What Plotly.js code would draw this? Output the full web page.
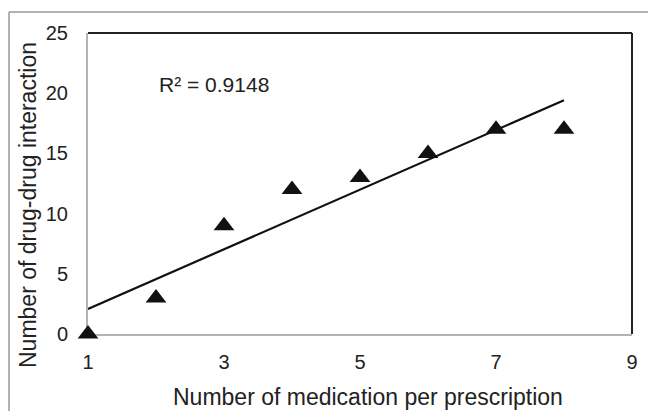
<!DOCTYPE html>
<html>
<head>
<meta charset="utf-8">
<script src="https://cdn.plot.ly/plotly-3.0.1.min.js"></script>
<style>html,body{margin:0;padding:0;background:#fff;}#chart{width:648px;height:411px;}</style>
</head>
<body>
<div id="chart"></div>
<script>
// Data
const medsPerPrescription = [1, 2, 3, 4, 5, 6, 7, 8];
const drugInteractions = [0, 3, 9, 12, 13, 15, 17, 17];
const xTickValues = [1, 3, 5, 7, 9];
const yTickValues = [0, 5, 10, 15, 20, 25];
const xTitle = 'Number of medication per prescription';
const yTitle = 'Number of drug-drug interaction';

// Linear least-squares trendline computed from the data
const n = medsPerPrescription.length;
const mx = medsPerPrescription.reduce((a, b) => a + b, 0) / n;
const my = drugInteractions.reduce((a, b) => a + b, 0) / n;
let sxy = 0, sxx = 0, syy = 0;
for (let i = 0; i < n; i++) {
  const dx = medsPerPrescription[i] - mx, dy = drugInteractions[i] - my;
  sxy += dx * dy; sxx += dx * dx; syy += dy * dy;
}
const slope = sxy / sxx;
const intercept = my - slope * mx;
const r2 = (sxy * sxy) / (sxx * syy);
const xFit = [medsPerPrescription[0], medsPerPrescription[n - 1]];
const yFit = xFit.map(x => intercept + slope * x);

const FONT = 'Liberation Sans, Arial, sans-serif';

const traces = [
  {
    x: xFit, y: yFit, type: 'scatter', mode: 'lines',
    line: {color: '#111', width: 2.2}, hoverinfo: 'skip', showlegend: false
  },
  {
    x: medsPerPrescription, y: drugInteractions, type: 'scatter', mode: 'markers',
    marker: {symbol: 'triangle-up', size: 18, color: '#111', line: {width: 0}},
    cliponaxis: false, showlegend: false
  }
];

const layout = {
  width: 648, height: 411,
  margin: {l: 88, r: 16, t: 33, b: 77},
  paper_bgcolor: '#fff', plot_bgcolor: '#fff',
  font: {family: FONT, color: '#222', size: 20},
  showlegend: false,
  xaxis: {
    range: [1, 9], tickvals: xTickValues, ticktext: xTickValues.map(String),
    showgrid: false, zeroline: false, showline: true, linecolor: '#b3b3b3', linewidth: 2,
    layer: 'below traces',
    ticks: '', ticklabelstandoff: 9, tickfont: {size: 20, family: FONT, color: '#222'}
  },
  yaxis: {
    range: [0, 25], tickvals: yTickValues, ticktext: yTickValues.map(String),
    showgrid: false, zeroline: false, showline: true, linecolor: '#b3b3b3', linewidth: 2,
    layer: 'below traces',
    ticks: '', ticklabelstandoff: 14, tickfont: {size: 20, family: FONT, color: '#222'}
  },
  shapes: [
    // plot-area top and right borders (dark)
    {type: 'line', xref: 'paper', yref: 'paper', x0: 0, x1: 1, y0: 1, y1: 1, line: {color: '#222', width: 2}},
    {type: 'line', xref: 'paper', yref: 'paper', x0: 1, x1: 1, y0: 0, y1: 1, line: {color: '#222', width: 2}},
    // outer chart frame (grey)
    {type: 'line', xref: 'paper', yref: 'paper', x0: -0.1452, x1: 1.2, y0: 1.0698, y1: 1.0698, line: {color: '#999', width: 1.5}},
    {type: 'line', xref: 'paper', yref: 'paper', x0: -0.1452, x1: -0.1452, y0: -0.4, y1: 1.0698, line: {color: '#999', width: 1.5}}
  ],
  annotations: [
    {xref: 'paper', yref: 'paper', x: (157 - 88) / 544, y: (334 - 84) / 301,
     xanchor: 'left', yanchor: 'middle', showarrow: false,
     text: 'R² = ' + r2.toFixed(4), font: {size: 21, family: FONT, color: '#222'}},
    // axis titles
    {xref: 'paper', yref: 'paper', x: (368 - 88) / 544, y: (334 - 397) / 301,
     xanchor: 'center', yanchor: 'middle', showarrow: false,
     text: xTitle, font: {size: 23, family: FONT, color: '#222'}},
    {xref: 'paper', yref: 'paper', x: (28 - 88) / 544, y: (334 - 205) / 301,
     xanchor: 'center', yanchor: 'middle', showarrow: false, textangle: -90,
     text: yTitle, font: {size: 23, family: FONT, color: '#222'}}
  ]
};

Plotly.newPlot('chart', traces, layout, {displayModeBar: false, staticPlot: true});
</script>
</body>
</html>
